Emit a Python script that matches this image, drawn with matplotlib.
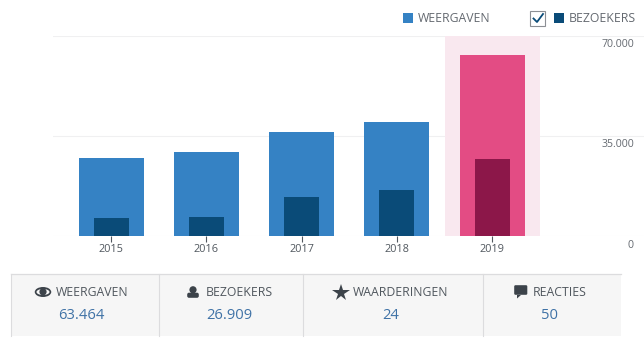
import matplotlib
matplotlib.use('Agg')
import matplotlib.pyplot as plt
from matplotlib.patches import Rectangle, Circle, Ellipse, FancyBboxPatch, Polygon
from matplotlib.transforms import ScaledTranslation

years = ['2015', '2016', '2017', '2018', '2019']
weergaven = [27300, 29400, 36400, 39900, 63464]
bezoekers = [6300, 6650, 13650, 16100, 26909]
y_ticks = [0, 35000, 70000]
y_labels = ['0', '35.000', '70.000']
stat_names = ['WEERGAVEN', 'BEZOEKERS', 'WAARDERINGEN', 'REACTIES']
stat_values = ['63.464', '26.909', '24', '50']

BLUE, NAVY = '#3582c4', '#0a4b78'
PINK, WINE = '#e34c84', '#8c1749'
ICON = '#3c434a'
W, H = 644, 356

plt.rcParams['font.family'] = ['Open Sans', 'DejaVu Sans']
fig = plt.figure(figsize=(W / 100, H / 100), dpi=100)

# page layer in pixel coordinates, for legend and stats strip
page = fig.add_axes([0, 0, 1, 1])
page.set_xlim(0, W); page.set_ylim(H, 0); page.axis('off')

# chart
ax = fig.add_axes([53 / W, 1 - 236 / H, (W - 53) / W, 200 / H])
ax.patch.set_alpha(0)
x = list(range(len(years)))
ax.bar(4, 70000, width=1.0, color='#f9e8ef', zorder=1)
ax.bar(x, weergaven, width=0.683, color=[BLUE] * 4 + [PINK], zorder=2)
ax.bar(x, bezoekers, width=0.368, color=[NAVY] * 4 + [WINE], zorder=3)
ax.set_xlim(-0.612, 5.595)
ax.set_ylim(0, 70000)
ax.set_xticks(x, years)
ax.tick_params(axis='x', length=4.5, width=0.8, color='#50575e', labelcolor='#50575e', labelsize=7.8, pad=1.5)
ax.set_yticks(y_ticks, y_labels)
ax.yaxis.tick_right()
ax.tick_params(axis='y', length=0, labelcolor='#646970', labelsize=7.6, pad=-7.2)
for lab in ax.get_yticklabels():
    lab.set_ha('right'); lab.set_va('center')
    lab.set_transform(lab.get_transform() + ScaledTranslation(0, -9 / 100, fig.dpi_scale_trans))
ax.grid(axis='y', color='#f0f0f1', linewidth=0.8, zorder=0)
ax.set_axisbelow(True)
for s in ax.spines.values():
    s.set_visible(False)

# legend
page.add_patch(Rectangle((403, 13), 10, 10, color=BLUE, lw=0))
page.text(418, 18, 'WEERGAVEN', color='#646970', fontsize=8.8, va='center')
page.add_patch(Rectangle((530.5, 10.5), 15, 15, fc='white', ec='#8c8f94', lw=0.8))
page.plot([533.5, 537, 543], [18.5, 22, 14], color=NAVY, lw=1.3)
page.add_patch(Rectangle((554, 13), 10, 10, color=NAVY, lw=0))
page.text(569, 18, 'BEZOEKERS', color='#646970', fontsize=8.8, va='center')

# stats strip
page.add_patch(Rectangle((11.5, 273.5), 609.5, 62.5, fc='#f6f6f6', ec='none'))
page.plot([11.5, 621], [273.5, 273.5], color='#dcdcde', lw=0.9)
for px in [11.5, 159.5, 303.5, 483.5]:
    page.plot([px, px], [273.5, 336], color='#dcdcde', lw=0.8)

name_x = [56, 206, 353, 533]
value_x = [81, 229, 390.5, 550]
for name, val, nx, vx in zip(stat_names, stat_values, name_x, value_x):
    page.text(nx, 293, name, color='#50575e', fontsize=8.8, va='center')
    page.text(vx, 315.5, val, color='#3f72a6', fontsize=10.6, ha='center', va='center')

# icons
page.add_patch(Ellipse((43, 292), 16.5, 10, fc=ICON, ec='none'))
page.add_patch(Ellipse((43, 292), 13, 6, fc='#f6f6f6', ec='none'))
page.add_patch(Circle((43, 291.8), 3.6, fc=ICON, ec='none'))
page.add_patch(Circle((193, 289.8), 3.6, fc=ICON, ec='none'))
page.add_patch(FancyBboxPatch((189, 294.5), 8, 1.5, boxstyle='round,pad=1.8', fc=ICON, ec='none'))
page.plot([341], [292.8], marker='*', ms=13, color=ICON, mew=0)
page.add_patch(FancyBboxPatch((515.5, 286.5), 10.5, 7, boxstyle='round,pad=1.3', fc=ICON, ec='none'))
page.add_patch(Polygon([[517, 295], [521, 295], [517, 298.5]], fc=ICON, ec='none'))

fig.savefig('out.png', dpi=100)
